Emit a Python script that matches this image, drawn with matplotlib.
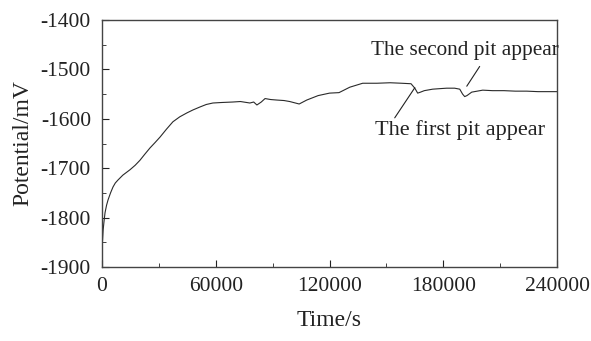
import matplotlib
matplotlib.use("Agg")
import matplotlib.pyplot as plt
from matplotlib.ticker import MultipleLocator

plt.rcParams["font.family"] = ["Liberation Serif", "DejaVu Serif"]
plt.rcParams["axes.unicode_minus"] = False

# potential vs time
time_s = [0, 300, 600, 1000, 1600, 2400, 3200, 4500, 5800, 7000, 8400, 11000,
          14800, 17500, 20000, 22500, 25300, 28000, 30600, 34000, 37400, 41000,
          44800, 48000, 51700, 55000, 58500, 63000, 69000, 73000, 78000, 80000,
          81700, 84000, 86000, 89000, 92200, 96000, 99000, 102000, 104000,
          108000, 114000, 120000, 125000, 130700, 137500, 145000, 152000,
          158000, 163000, 165000, 166500, 168000, 170000, 174400, 178000,
          181800, 186000, 188700, 190200, 191300, 192500, 195000, 200800,
          206000, 212000, 218000, 224000, 230000, 236000, 240000]
potential_mv = [-1860, -1845, -1825, -1810, -1790, -1775, -1764, -1750, -1738,
                -1730, -1724, -1714, -1703, -1694, -1684, -1672, -1659, -1648,
                -1637, -1621, -1606, -1596, -1588, -1582, -1576, -1571, -1568,
                -1567, -1566, -1565, -1568, -1566, -1572, -1566, -1559, -1561,
                -1562, -1563, -1565, -1568, -1570, -1562, -1553, -1548, -1547,
                -1536, -1528, -1528, -1527, -1528, -1529, -1538, -1548, -1546,
                -1543, -1540, -1539, -1538, -1538, -1540, -1550, -1555, -1553,
                -1546, -1542, -1543, -1543, -1544, -1544, -1545, -1545, -1545]

x_ticks = [0, 60000, 120000, 180000, 240000]
y_ticks = [-1900, -1800, -1700, -1600, -1500, -1400]

fig = plt.figure(figsize=(5.91, 3.41), dpi=100)
ax = fig.add_axes([0.1726, 0.217, 0.7699, 0.7243])

ax.plot(time_s, potential_mv, color="#2a2a2a", lw=0.8)

ax.set_xlim(0, 240000)
ax.set_ylim(-1900, -1400)
ax.set_xticks(x_ticks)
ax.set_yticks(y_ticks)
ax.xaxis.set_minor_locator(MultipleLocator(30000))
ax.yaxis.set_minor_locator(MultipleLocator(50))
ax.tick_params(which="both", direction="in", labelsize=15.5, colors="#222")
ax.tick_params(which="major", length=5)
ax.tick_params(which="minor", length=3)
ax.tick_params(axis="x", pad=7)
ax.tick_params(axis="y", pad=8)
for s in ax.spines.values():
    s.set_color("#444")
    s.set_linewidth(1.0)

ax.set_xlabel("Time/s", fontsize=17, labelpad=10, color="#222")
ax.set_ylabel("Potential/mV", fontsize=17, labelpad=5, color="#222")

# leader lines, then the labels
ax.annotate("", xy=(165000, -1537), xytext=(154400, -1598),
            arrowprops=dict(arrowstyle="-", color="#222", lw=0.8,
                            shrinkA=0, shrinkB=0))
ax.annotate("", xy=(192400, -1534), xytext=(199200, -1494),
            arrowprops=dict(arrowstyle="-", color="#222", lw=0.8,
                            shrinkA=0, shrinkB=0))
ax.text(188700, -1622, "The first pit appear", ha="center", va="center",
        fontsize=16, color="#222")
ax.text(191300, -1461, "The second pit appear", ha="center", va="center",
        fontsize=15.3, color="#222")

fig.savefig("out.png", dpi=100)
